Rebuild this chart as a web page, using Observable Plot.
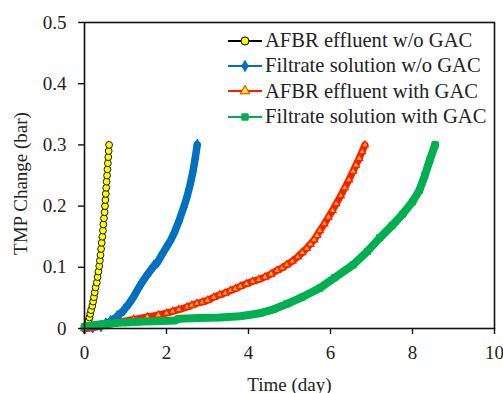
<!DOCTYPE html>
<html>
<head>
<meta charset="utf-8">
<script src="https://cdn.jsdelivr.net/npm/d3@7"></script>
<script src="https://cdn.jsdelivr.net/npm/@observablehq/plot@0.6"></script>
<style>
  html, body { margin: 0; padding: 0; background: #fff; }
  #wrap { position: relative; width: 503px; height: 393px; overflow: hidden; font-family: "Liberation Serif", serif; }
  #legend { position: absolute; left: 226px; top: 28px; font-family: "Liberation Serif", "Times New Roman", serif; font-size: 20.6px; color: #222; }
  .row { display: flex; align-items: center; height: 25.3px; white-space: nowrap; }
  .row svg { margin-right: 3px; }
</style>
</head>
<body>
<div id="wrap"><div id="legend"></div></div>
<script>
// ---- data ----
const seriesNames = [
  "AFBR effluent w/o GAC",
  "Filtrate solution w/o GAC",
  "AFBR effluent with GAC",
  "Filtrate solution with GAC"
];
const xTicks = [0, 2, 4, 6, 8, 10];
const yTicks = [0, 0.1, 0.2, 0.3, 0.4, 0.5];

const afbrNoGacDays = [0.0,0.03,0.07,0.10,0.12,0.14,0.16,0.19,0.21,0.23,0.25,0.27,0.30,0.32,0.34,0.36,0.375,0.39,0.405,0.42,0.435,0.45,0.46,0.475,0.49,0.50,0.51,0.52,0.53,0.54,0.55,0.56,0.57,0.58,0.59,0.60];
const afbrNoGacTmp  = [0,0.004,0.008,0.013,0.018,0.024,0.030,0.037,0.044,0.051,0.059,0.067,0.075,0.084,0.093,0.102,0.111,0.120,0.130,0.140,0.150,0.160,0.170,0.180,0.190,0.200,0.210,0.220,0.230,0.240,0.250,0.260,0.270,0.280,0.290,0.300];

const filtNoGacDays = [0,0.2,0.4,0.52,0.64,0.8,0.96,1.1,1.2,1.29,1.4,1.5,1.6,1.7,1.78,1.9,2.0,2.1,2.2,2.3,2.42,2.5,2.58,2.65,2.7,2.75];
const filtNoGacTmp  = [0,0.002,0.004,0.008,0.012,0.02,0.03,0.042,0.052,0.063,0.075,0.085,0.094,0.103,0.108,0.122,0.133,0.144,0.158,0.175,0.198,0.215,0.236,0.258,0.278,0.3];

const afbrGacDays = [0,0.3,0.6,0.89,1.2,1.53,1.8,2.0,2.15,2.3,2.5,2.62,2.74,2.87,3.0,3.15,3.3,3.43,3.56,3.68,3.8,3.95,4.1,4.25,4.4,4.55,4.7,4.82,4.93,5.07,5.2,5.31,5.42,5.51,5.6,5.67,5.74,5.85,5.95,6.05,6.14,6.25,6.35,6.45,6.55,6.62,6.7,6.77,6.84];
const afbrGacTmp  = [0,0.003,0.007,0.011,0.015,0.019,0.022,0.025,0.028,0.031,0.035,0.038,0.041,0.043,0.046,0.051,0.055,0.058,0.062,0.065,0.069,0.073,0.077,0.080,0.084,0.089,0.095,0.099,0.104,0.110,0.117,0.124,0.131,0.138,0.145,0.152,0.16,0.171,0.182,0.193,0.204,0.217,0.23,0.243,0.257,0.267,0.278,0.289,0.3];

const filtGacDays = [0,0.3,0.6,1.0,1.3,1.7,2.2,2.3,2.8,3.3,3.8,4.28,4.6,4.93,5.3,5.74,6.1,6.55,6.9,7.2,7.5,7.76,8.0,8.17,8.3,8.42,8.55];
const filtGacTmp  = [0.003,0.006,0.008,0.010,0.011,0.012,0.013,0.016,0.017,0.018,0.020,0.025,0.031,0.040,0.051,0.066,0.083,0.104,0.126,0.148,0.168,0.187,0.207,0.226,0.25,0.275,0.3];

// ---- styles ----
const styles = [
  {line: "#000000", lineW: 1.3, symbol: "circle", fill: "#FFFF00", stroke: "#000000", r: 3.4, sw: 0.9},
  {line: "#0070C0", lineW: 7.5, symbol: "diamond", fill: "#0070C0", stroke: "#0070C0", r: 3.5, sw: 0.9},
  {line: "#FF1A00", lineW: 7, symbol: "triangle", fill: "#FFC000", stroke: "#FF1A00", r: 2.6, sw: 1.2},
  {line: "#00B050", lineW: 8, symbol: "square", fill: "#00B050", stroke: "#00B050", r: 3.5, sw: 0.9}
];

const xs = [afbrNoGacDays, filtNoGacDays, afbrGacDays, filtGacDays];
const ys = [afbrNoGacTmp, filtNoGacTmp, afbrGacTmp, filtGacTmp];
const tables = xs.map((xa, i) => xa.map((x, j) => ({x, y: ys[i][j], s: seriesNames[i]})));

const marks = [];
tables.forEach((t, i) => {
  const st = styles[i];
  marks.push(Plot.line(t, {x: "x", y: "y", stroke: st.line, strokeWidth: st.lineW, strokeLinejoin: "round", strokeLinecap: "round"}));
  marks.push(Plot.dot(t, {x: "x", y: "y", symbol: st.symbol, r: st.r, fill: st.fill, stroke: st.stroke, strokeWidth: st.sw}));
});

const serif = "'Liberation Serif', 'Times New Roman', serif";
const chart = Plot.plot({
  width: 503,
  height: 393,
  marginLeft: 84,
  marginRight: 9,
  marginTop: 22,
  marginBottom: 65,
  style: {fontFamily: serif, fontSize: "19px", color: "#222", background: "#fff"},
  x: {domain: [0, 10]},
  y: {domain: [0, 0.5]},
  marks: [
    ...marks,
    Plot.frame({stroke: "#111", strokeWidth: 1.6}),
    Plot.axisX({ticks: xTicks, tickSize: 6, tickPadding: 11, stroke: "#111", strokeWidth: 1.4, fontSize: 19, fontVariant: "normal", label: "Time (day)", labelAnchor: "center", labelArrow: "none", labelOffset: 62}),
    Plot.axisY({ticks: yTicks, tickSize: 6, tickPadding: 12, stroke: "#111", strokeWidth: 1.4, fontSize: 19, fontVariant: "normal", tickFormat: d => d === 0 ? "0" : d.toFixed(1), label: null}),
    Plot.text(["TMP Change (bar)"], {frameAnchor: "left", textAnchor: "middle", rotate: -90, dx: -64, dy: 8, fontSize: 19, fill: "#222", lineAnchor: "middle"})
  ]
});
d3.select(chart).style("font-family", serif);
d3.select(chart).selectAll("g, text").attr("font-family", null).style("font-family", serif, "important").style("font-weight", "normal").style("font-variant", "normal");
document.getElementById("wrap").prepend(chart);

// ---- legend ----
const legend = d3.select("#legend");
seriesNames.forEach((name, i) => {
  const st = styles[i];
  const row = legend.append("div").attr("class", "row");
  const svg = row.append("svg").attr("width", 36).attr("height", 14);
  svg.append("line").attr("x1", 2).attr("x2", 36).attr("y1", 7).attr("y2", 7)
     .attr("stroke", i === 0 ? "#000" : st.line).attr("stroke-width", 2);
  const sym = {circle: d3.symbolCircle, diamond: d3.symbolDiamond, triangle: d3.symbolTriangle, square: d3.symbolSquare}[st.symbol];
  const size = {circle: Math.PI * 16, diamond: 36, triangle: 40, square: 40}[st.symbol];
  svg.append("path").attr("d", d3.symbol(sym, size)()).attr("transform", "translate(19,7)")
     .attr("fill", i === 2 ? "#FFFF00" : st.fill).attr("stroke", st.stroke).attr("stroke-width", 1);
  row.append("span").text(name);
});
</script>
</body>
</html>
